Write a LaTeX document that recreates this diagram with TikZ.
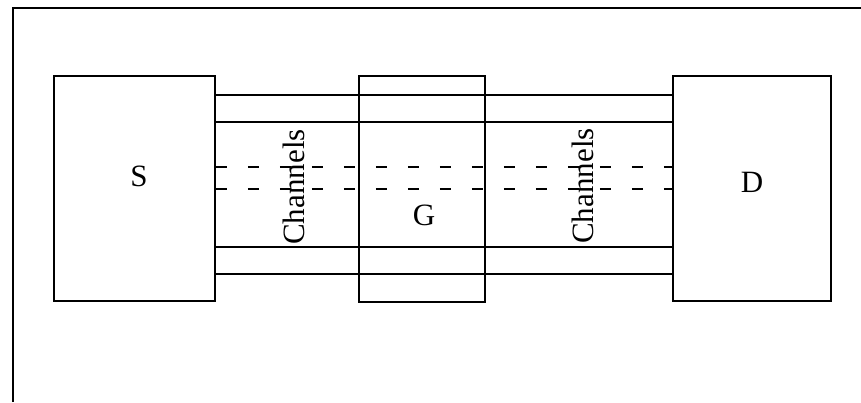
\documentclass[tikz,border=0pt]{standalone}
\usepackage{fontspec}
\setmainfont{Liberation Serif}
\begin{document}
\begin{tikzpicture}[x=1pt,y=-1pt,
  box/.style={draw,line width=1.7pt,rectangle,inner sep=0pt,minimum height=225pt},
  chan/.style={line width=1.7pt},
  dchan/.style={line width=1.7pt,dash pattern=on 11pt off 21pt},
  lbl/.style={font=\fontsize{31}{37}\selectfont,inner sep=0pt},
  rotlbl/.style={font=\fontsize{31}{37}\selectfont,inner sep=0pt,rotate=90}]
\useasboundingbox (0,0) rectangle (861,402);
\draw[line width=1.7pt] (13,402) -- (13,8) -- (861,8);
\node[box,minimum width=161pt] (S) at (134.5,188.5) {};
\node[box,minimum width=126pt,minimum height=226pt] (G) at (422,189) {};
\node[box,minimum width=158pt] (D) at (752,188.5) {};
\foreach \yy in {95,122,247,274}
  \draw[chan] (S.east |- 0,\yy) -- (D.west |- 0,\yy);
\foreach \yy in {167,189}
  \draw[dchan] (S.east |- 0,\yy) -- (D.west |- 0,\yy);
\node[lbl] (Sl) at (139,176) {S};
\node[lbl] (Gl) at (424,215) {G};
\node[lbl] (Dl) at (752,182) {D};
\node[rotlbl] (C1) at (294,187) {Channels};
\node[rotlbl] (C2) at (583,186) {Channels};
\end{tikzpicture}
\end{document}
